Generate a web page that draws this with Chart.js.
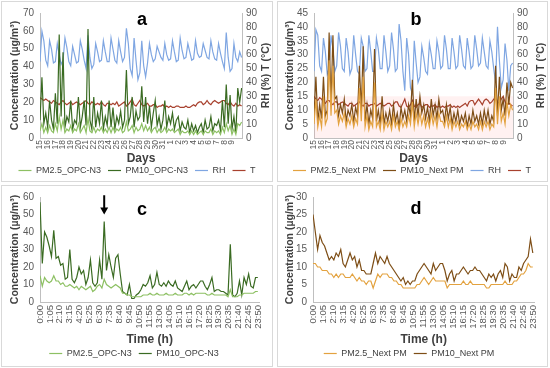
<!DOCTYPE html>
<html>
<head>
<meta charset="utf-8">
<script src="https://cdn.jsdelivr.net/npm/chart.js@4.4.1/dist/chart.umd.min.js"></script>
<style>
  body { margin: 0; background: #fff; width: 550px; height: 368px; position: relative; overflow: hidden; }
  .box { position: absolute; border: 1px solid #d9d9d9; box-sizing: border-box; }
  .cv { position: absolute; }
</style>
</head>
<body>
<div class="box" style="left:1px;top:1px;width:272px;height:181px"></div>
<div class="box" style="left:277px;top:1px;width:271px;height:181px"></div>
<div class="box" style="left:1px;top:185px;width:272px;height:182px"></div>
<div class="box" style="left:277px;top:185px;width:271px;height:182px"></div>

<div class="cv" style="left:1px;top:1px;width:272px;height:184px"><canvas id="chartA"></canvas></div>
<div class="cv" style="left:276px;top:1px;width:272px;height:184px"><canvas id="chartB"></canvas></div>
<div class="cv" style="left:1px;top:185px;width:272px;height:183px"><canvas id="chartC"></canvas></div>
<div class="cv" style="left:276px;top:185px;width:272px;height:183px"><canvas id="chartD"></canvas></div>

<script>
// x axis labels
const dayLabels = ['15','16','17','18','19','20','21','22','23','24','25','26','27','28','29','30','31','1','2','3','4','5','6','7','8','9'];
const timeLabels = ['0:00','1:05','2:10','3:15','4:20','5:25','6:30','7:35','8:40','9:45','10:50','11:55',
                    '13:00','14:05','15:10','16:15','17:20','18:25','19:30','20:35','21:40','22:45','23:50'];
const samplesPerDay = 4;      // panels a, b (6-hourly)
const minutesPerSample = 15;  // panels c, d

// panel a (left axis: µg/m3, right axis: RH %, T °C)
const pm25Opc = [4,8,3,6, 3,7,4,3, 8,4,12,5, 10,3,5,4, 7,3,5,4, 8,3,5,7, 3,11,4,3, 6,3,5,4, 6,3,5,3,
  6,3,6,3, 5,4,6,3, 4,9,4,5, 7,3,6,4, 5,8,4,7, 4,6,3,5, 6,3,5,3, 4,6,3,5, 4,5,3,4, 5,2,4,3, 3,4,2,4,
  2,4,2,3, 4,2,4,3, 3,5,2,4, 3,4,2,6, 3,8,4,7, 2,5,2,8, 7,9];
const pm10Opc = [10,34,8,14, 6,21,10,5, 25,8,58,12, 48,6,12,9, 21,5,10,8, 23,6,12,21, 7,61,10,5, 23,6,14,8,
  21,5,12,7, 21,6,17,5, 12,8,15,6, 10,38,8,12, 23,6,15,10, 12,29,9,23, 8,18,6,14, 21,7,12,5, 10,21,6,12,
  8,14,5,10, 12,4,9,6, 5,10,3,8, 4,7,3,6, 8,3,10,5, 6,12,4,8, 7,10,4,21, 6,30,8,24, 5,12,3,28, 20,28];
const rhA = [55,77,70,56, 52,70,64,54, 55,68,60,53, 56,72,65,55, 52,66,60,54, 55,70,64,56, 50,74,58,50,
  53,68,62,55, 56,70,62,55, 55,72,64,56, 54,70,62,55, 58,79,68,50, 45,72,56,42, 47,70,52,44, 54,68,60,55,
  57,66,62,58, 56,68,60,56, 57,70,62,55, 56,72,63,57, 58,68,62,56, 57,70,61,58, 59,68,63,58, 57,70,62,57,
  56,68,61,55, 50,76,58,48, 50,68,58,55, 62,58];
const tA = [29,28,27,28, 27,26,25,27, 26,25,24,26, 27,25,24,25, 26,24,25,26, 25,24,25,26, 27,25,24,26,
  25,24,25,24, 26,24,23,25, 25,24,25,24, 26,23,24,25, 26,23,24,26, 28,24,23,25, 27,24,23,24, 25,23,23,24,
  24,22,23,23, 24,22,23,22, 23,22,22,23, 23,22,22,22, 23,22,22,23, 24,23,25,26, 26,24,25,27, 25,24,26,27,
  26,25,26,27, 27,25,24,26, 24,23,25,23, 24,23];

// panel b
const pm25Next = [5,14,4,8, 4,15,5,7, 28,8,26,9, 10,5,8,6, 9,4,7,5, 8,4,7,5, 18,6,22,4, 8,3,6,4,
  20,4,6,3, 9,3,6,4, 6,3,8,4, 6,3,7,4, 6,4,8,5, 13,4,9,5, 9,5,8,4, 7,4,9,5, 8,4,9,6,
  6,4,8,4, 7,3,6,4, 6,3,5,4, 6,3,5,3, 6,4,5,3, 6,3,6,4, 6,3,5,4, 18,5,15,6, 9,5,13,8, 12,10];
const pm10Next = [8,22,6,12, 7,22,8,10, 38,12,37,14, 15,8,12,9, 14,6,10,8, 12,6,11,8, 26,10,33,6, 12,5,10,7,
  32,6,10,5, 15,5,9,6, 10,5,12,6, 9,4,11,7, 10,6,12,8, 21,6,14,8, 15,9,12,7, 11,6,14,8, 12,7,14,9,
  10,6,12,7, 11,5,9,6, 10,5,8,6, 9,4,8,5, 10,6,8,5, 9,5,10,6, 10,5,8,6, 26,8,22,10, 14,8,20,12, 20,18];
const rhB = [48,78,74,52, 48,72,62,46, 50,74,64,48, 52,76,66,50, 48,72,62,46, 50,74,60,48, 46,72,66,48,
  50,74,62,48, 48,72,64,50, 50,74,62,48, 52,76,64,48, 50,82,70,48, 34,72,60,36, 32,70,54,40, 44,66,58,48,
  46,68,60,50, 50,70,62,50, 52,74,64,50, 50,72,62,50, 52,74,64,52, 50,72,62,50, 52,74,64,52, 54,72,62,52,
  50,70,62,50, 40,80,56,36, 42,68,56,34, 52,54];
const tB = [30,28,27,29, 28,26,25,27, 27,25,24,26, 26,24,25,26, 25,24,23,25, 25,23,24,25, 26,24,23,25,
  25,23,24,24, 25,23,24,25, 24,23,24,25, 25,23,24,26, 26,23,22,25, 28,23,22,24, 27,23,22,24, 25,22,23,24,
  24,22,23,23, 24,22,23,22, 23,22,23,23, 24,22,23,22, 23,22,23,24, 25,23,26,27, 27,24,26,28, 26,24,27,28,
  27,25,26,28, 29,26,25,28, 30,26,24,25, 24,23];
const shadeB = 15; // shaded concentration band in panel b

// panel c (one day, 15 min)
const pm25OpcDay = [15,9,14,12,11,12,15,12,12,10,11,9, 9,10,9,8,9,7,9,8,7,8,9,6, 7,9,10,8,13,10,9,8,9,10,9,8,
  5,5,4,4,3,3,3,3,3,4,4,4, 5,4,4,5,4,4,4,5,4,4,4,5, 4,4,4,5,5,4,5,4,5,5,5,5, 5,4,4,5,4,4,4,4,4,4,3,7,
  3,3,3,4,4,5,5,5,5,5,6,6];
const pm10OpcDay = [57,22,40,37,32,26,41,25,26,21,22,13, 14,30,13,11,14,20,16,18,10,14,24,11, 9,11,24,13,46,18,27,20,14,25,27,16,
  6,5,4,10,2,2,4,5,7,10,9,11, 15,8,10,17,10,9,11,9,12,10,9,12, 8,7,6,9,12,7,9,10,8,10,12,12, 9,7,10,14,6,7,7,6,6,5,4,33,
  4,3,5,12,4,14,10,16,9,8,14,14];
const peakTime = 420; // arrow marks the 7:00 peak

// panel d
const pm25NextDay = [11,11,10,10,9,9,9,8,8,7,8,7, 8,8,7,7,7,8,7,6,7,6,6,5, 6,6,4,6,8,7,8,8,8,7,7,6,
  6,5,5,4,4,4,4,4,4,5,5,6, 7,6,5,6,7,6,6,6,6,6,4,5, 5,5,5,5,5,6,5,5,6,5,5,5, 5,5,5,4,4,5,5,5,5,5,5,6,
  5,5,5,6,6,7,8,8,9,11,10,10];
const pm10NextDay = [25,20,15,19,17,16,14,12,13,12,14,13, 15,11,10,12,14,12,13,10,12,9,9,8, 8,8,11,14,11,13,12,11,13,11,10,9,
  8,7,6,7,5,6,5,6,6,8,9,10, 11,10,9,8,11,9,10,11,11,9,6,8, 9,6,8,8,9,10,9,8,9,9,10,9, 9,8,7,6,8,7,8,6,8,9,7,11,
  10,6,8,7,7,10,9,11,12,13,18,14];

const colors = {
  pm25Opc: '#8DC063', pm10Opc: '#3A6B22', rh: '#7FA6E2', t: '#A8412E',
  pm25Next: '#E3A23F', pm10Next: '#7E4E16'
};

Chart.defaults.font.family = '"Liberation Sans", Arial, sans-serif';
Chart.defaults.color = '#595959';

function toPoints(values, step) {
  return values.map((v, i) => ({ x: i * step, y: v }));
}

function lineSet(label, values, step, color, axis) {
  return {
    label: label, data: toPoints(values, step), yAxisID: axis,
    borderColor: color, backgroundColor: color, borderWidth: 1.2,
    pointRadius: 0, pointStyle: 'line', tension: 0
  };
}

// panel letter, secondary axis title, arrow
const extras = {
  id: 'extras',
  afterDraw(chart, args, opts) {
    const ctx = chart.ctx;
    ctx.save();
    ctx.fillStyle = '#000';
    ctx.font = 'bold 18px "Liberation Sans", Arial, sans-serif';
    ctx.textAlign = 'center';
    ctx.textBaseline = 'middle';
    ctx.fillText(opts.letter, opts.lx, opts.ly);
    if (opts.rightTitle) {
      const a = chart.chartArea;
      ctx.translate(opts.rx, (a.top + a.bottom) / 2);
      ctx.rotate(-Math.PI / 2);
      ctx.fillStyle = '#404040';
      ctx.font = 'bold 10.5px "Liberation Sans", Arial, sans-serif';
      ctx.fillText(opts.rightTitle, 0, 0);
      ctx.setTransform(1, 0, 0, 1, 0, 0);
    }
    if (opts.arrow) {
      const x = chart.scales.x.getPixelForValue(opts.arrow.x);
      const y0 = chart.scales.y.getPixelForValue(opts.arrow.from);
      const y1 = chart.scales.y.getPixelForValue(opts.arrow.to);
      ctx.strokeStyle = '#000';
      ctx.lineWidth = 2;
      ctx.beginPath();
      ctx.moveTo(x, y0);
      ctx.lineTo(x, y1 - 5);
      ctx.stroke();
      ctx.beginPath();
      ctx.moveTo(x - 4, y1 - 7);
      ctx.lineTo(x + 4, y1 - 7);
      ctx.lineTo(x, y1);
      ctx.closePath();
      ctx.fill();
    }
    ctx.restore();
  }
};

function legendOpts() {
  return {
    position: 'bottom',
    labels: {
      usePointStyle: true, pointStyleWidth: 13, padding: 7, color: '#404040',
      font: { size: 9 },
      filter: item => item.text !== ''
    }
  };
}

function yAxis(max, step, width, titleText, pad) {
  return {
    min: 0, max: max,
    ticks: { stepSize: step, autoSkip: false, font: { size: 10 }, padding: pad },
    grid: { display: false, drawTicks: false },
    border: { color: '#bfbfbf' },
    title: titleText ? { display: true, text: titleText, color: '#404040',
      font: { size: 10.5, weight: 'bold' }, padding: { top: 8, bottom: 0 } } : { display: false },
    afterFit: s => { s.width = width; }
  };
}

function dailyChart(id, sets, cfg) {
  const step = 1 / samplesPerDay;
  const xmax = 26.3;
  const datasets = sets.map(s => lineSet(s.label, s.values, step, s.color, s.axis));
  if (cfg.shade) {
    datasets.push({
      label: '', data: [{ x: 0, y: cfg.shade }, { x: xmax, y: cfg.shade }], yAxisID: 'y',
      borderWidth: 0, pointRadius: 0, fill: 'origin', backgroundColor: 'rgba(255,170,170,0.16)'
    });
  }
  new Chart(document.getElementById(id), {
    type: 'line',
    data: { datasets: datasets },
    options: {
      responsive: true, maintainAspectRatio: false, animation: false,
      layout: { padding: { top: cfg.top, left: 0, right: 0, bottom: 0 } },
      plugins: {
        legend: legendOpts(),
        tooltip: { enabled: false },
        extras: cfg.extras
      },
      scales: {
        x: {
          type: 'linear', min: 0, max: xmax,
          ticks: {
            stepSize: 1, autoSkip: false, includeBounds: false, minRotation: 90, maxRotation: 90,
            padding: 2, font: { size: 8.5 },
            callback: v => dayLabels[v] ?? ''
          },
          grid: { display: false, drawTicks: false },
          border: { color: '#bfbfbf' },
          title: { display: true, text: 'Days', color: '#404040', font: { size: 12, weight: 'bold' },
            padding: { top: 0, bottom: cfg.titlePad } },
          afterFit: s => { s.height = s.chart.height - cfg.bottom - s.chart.legend.height; }
        },
        y: yAxis(cfg.ymax, cfg.ystep, cfg.yw, 'Concentration (µg/m³)', 6),
        y1: Object.assign(yAxis(90, 10, cfg.y1w, null, 4), { position: 'right' })
      }
    },
    plugins: [extras]
  });
}

function hourlyChart(id, sets, cfg) {
  const datasets = sets.map(s => lineSet(s.label, s.values, minutesPerSample, s.color, 'y'));
  new Chart(document.getElementById(id), {
    type: 'line',
    data: { datasets: datasets },
    options: {
      responsive: true, maintainAspectRatio: false, animation: false,
      layout: { padding: { top: cfg.top, left: 0, right: cfg.right, bottom: 0 } },
      plugins: {
        legend: legendOpts(),
        tooltip: { enabled: false },
        extras: cfg.extras
      },
      scales: {
        x: {
          type: 'linear', min: 0, max: 1435,
          ticks: {
            stepSize: 65, autoSkip: false, includeBounds: false, minRotation: 90, maxRotation: 90,
            padding: 3, font: { size: 9.5 },
            callback: v => timeLabels[Math.round(v / 65)] ?? ''
          },
          grid: { display: false, drawTicks: false },
          border: { color: '#bfbfbf' },
          title: { display: true, text: 'Time (h)', color: '#404040', font: { size: 12, weight: 'bold' },
            padding: { top: 0, bottom: cfg.titlePad } },
          afterFit: s => { s.height = s.chart.height - cfg.bottom - s.chart.legend.height; }
        },
        y: yAxis(cfg.ymax, cfg.ystep, cfg.yw, 'Concentration (µg/m³)', 6)
      }
    },
    plugins: [extras]
  });
}

dailyChart('chartA', [
  { label: 'PM2.5_OPC-N3', values: pm25Opc, color: colors.pm25Opc, axis: 'y' },
  { label: 'PM10_OPC-N3', values: pm10Opc, color: colors.pm10Opc, axis: 'y' },
  { label: 'RH', values: rhA, color: colors.rh, axis: 'y1' },
  { label: 'T', values: tA, color: colors.t, axis: 'y1' }
], { top: 10, bottom: 137, yw: 39, y1w: 31, ymax: 70, ystep: 10, titlePad: -7,
     extras: { letter: 'a', lx: 141, ly: 19, rightTitle: 'RH (%) T (°C)', rx: 265 } });

dailyChart('chartB', [
  { label: 'PM2.5_Next PM', values: pm25Next, color: colors.pm25Next, axis: 'y' },
  { label: 'PM10_Next PM', values: pm10Next, color: colors.pm10Next, axis: 'y' },
  { label: 'RH', values: rhB, color: colors.rh, axis: 'y1' },
  { label: 'T', values: tB, color: colors.t, axis: 'y1' }
], { top: 10, bottom: 137, yw: 38, y1w: 35, ymax: 45, ystep: 5, titlePad: -7, shade: shadeB,
     extras: { letter: 'b', lx: 140, ly: 19, rightTitle: 'RH (%) T (°C)', rx: 265 } });

hourlyChart('chartC', [
  { label: 'PM2.5_OPC-N3', values: pm25OpcDay, color: colors.pm25Opc },
  { label: 'PM10_OPC-N3', values: pm10OpcDay, color: colors.pm10Opc }
], { top: 9, right: 6, bottom: 117, yw: 39, ymax: 60, ystep: 10, titlePad: -5,
     extras: { letter: 'c', lx: 141, ly: 25, arrow: { x: peakTime, from: 61, to: 50 } } });

hourlyChart('chartD', [
  { label: 'PM2.5_Next PM', values: pm25NextDay, color: colors.pm25Next },
  { label: 'PM10_Next PM', values: pm10NextDay, color: colors.pm10Next }
], { top: 9, right: 6, bottom: 117, yw: 37, ymax: 30, ystep: 5, titlePad: -5,
     extras: { letter: 'd', lx: 140, ly: 24 } });
</script>
</body>
</html>
